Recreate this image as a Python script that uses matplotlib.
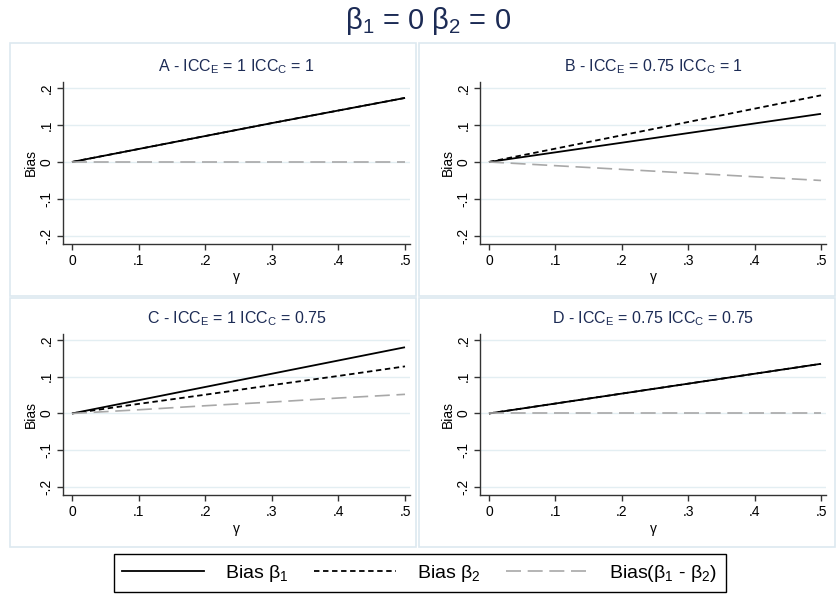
import numpy as np
import matplotlib.pyplot as plt
from matplotlib.patches import Rectangle
from matplotlib.lines import Line2D

plt.rcParams['font.family'] = ['Liberation Sans', 'DejaVu Sans']
plt.rcParams['mathtext.fontset'] = 'custom'
plt.rcParams['mathtext.rm'] = 'Liberation Sans'

# data
gamma = [0, 0.1, 0.2, 0.3, 0.4, 0.5]
titles = ['A - ICC$_\\mathregular{E}$ = 1 ICC$_\\mathregular{C}$ = 1',
          'B - ICC$_\\mathregular{E}$ = 0.75 ICC$_\\mathregular{C}$ = 1',
          'C - ICC$_\\mathregular{E}$ = 1 ICC$_\\mathregular{C}$ = 0.75',
          'D - ICC$_\\mathregular{E}$ = 0.75 ICC$_\\mathregular{C}$ = 0.75']
bias_b1 = [[0, 0.035, 0.070, 0.105, 0.139, 0.173],
           [0, 0.026, 0.052, 0.078, 0.104, 0.130],
           [0, 0.036, 0.072, 0.108, 0.144, 0.180],
           [0, 0.027, 0.054, 0.081, 0.108, 0.135]]
bias_b2 = [[0, 0.035, 0.070, 0.105, 0.139, 0.173],
           [0, 0.036, 0.072, 0.108, 0.144, 0.180],
           [0, 0.026, 0.051, 0.077, 0.102, 0.128],
           [0, 0.027, 0.054, 0.081, 0.108, 0.135]]
bias_diff = [[0, 0, 0, 0, 0, 0],
             [0, -0.010, -0.020, -0.030, -0.040, -0.050],
             [0, 0.010, 0.021, 0.031, 0.042, 0.052],
             [0, 0, 0, 0, 0, 0]]
xticks = [0, 0.1, 0.2, 0.3, 0.4, 0.5]
xticklabels = ['0', '.1', '.2', '.3', '.4', '.5']
yticks = [-0.2, -0.1, 0, 0.1, 0.2]
yticklabels = ['-.2', '-.1', '0', '.1', '.2']

W, H = 837, 596
fig = plt.figure(figsize=(W / 100, H / 100), dpi=100)

navy = '#1c2b55'
grid_col = '#e3eef2'
box_col = '#dde9f0'
diff_col = '#a8a8a8'

# pixel boxes (left, top, right, bottom)
axes_px = [(63, 82, 410, 244), (480, 82, 826, 244),
           (63, 334, 410, 495), (480, 334, 826, 495)]
panel_px = [(10, 43, 416, 296), (419, 43, 835, 296),
            (10, 298, 416, 547), (419, 298, 835, 547)]

for (l, t, r, b) in panel_px:
    fig.patches.append(Rectangle((l / W, 1 - b / H), (r - l) / W, (b - t) / H,
                                 transform=fig.transFigure, fill=False,
                                 edgecolor=box_col, lw=1.2))

for i, (l, t, r, b) in enumerate(axes_px):
    ax = fig.add_axes([l / W, 1 - b / H, (r - l) / W, (b - t) / H])
    ax.plot(gamma, bias_b1[i], color='black', lw=1.3, solid_capstyle='butt')
    ax.plot(gamma, bias_b2[i], color='black', lw=1.3, dashes=(3, 2))
    ax.plot(gamma, bias_diff[i], color=diff_col, lw=1.2, dashes=(9, 4))
    ax.set_xlim(-0.0135, 0.5075)
    ax.set_ylim(-0.2216, 0.216)
    ax.set_xticks(xticks)
    ax.set_xticklabels(xticklabels, fontsize=10)
    ax.set_yticks(yticks)
    ax.set_yticklabels(yticklabels, fontsize=10, rotation=90, va='center')
    ax.grid(axis='y', color=grid_col, lw=1)
    ax.set_axisbelow(True)
    for s in ['top', 'right']:
        ax.spines[s].set_visible(False)
    for s in ['left', 'bottom']:
        ax.spines[s].set_color('#333333')
        ax.spines[s].set_linewidth(1)
    ax.tick_params(direction='out', length=4, width=1, color='#333333', pad=3)
    ax.set_xlabel('γ', fontsize=10, labelpad=2)
    ax.set_ylabel('Bias', fontsize=10, labelpad=1)
    ax.set_title(titles[i], fontsize=11.5, color=navy, pad=8)

fig.text(428 / W, 1 - 21 / H, 'β$_\\mathregular{1}$ = 0 β$_\\mathregular{2}$ = 0',
         ha='center', va='center', fontsize=21, color=navy)

handles = [Line2D([], [], color='black', lw=1.3),
           Line2D([], [], color='black', lw=1.3, dashes=(3, 2)),
           Line2D([], [], color=diff_col, lw=1.2, dashes=(9, 4))]
labels = ['Bias β$_\\mathregular{1}$', 'Bias β$_\\mathregular{2}$',
          'Bias(β$_\\mathregular{1}$ - β$_\\mathregular{2}$)']
leg = fig.legend(handles, labels, loc='center', ncol=3,
                 bbox_to_anchor=(420 / W, 1 - 573 / H), fontsize=14,
                 handlelength=4.2, columnspacing=1.3, handletextpad=1.1,
                 fancybox=False, edgecolor='black', framealpha=1,
                 borderpad=0.45)
leg.get_frame().set_linewidth(1)

fig.savefig('out.png', dpi=100)
